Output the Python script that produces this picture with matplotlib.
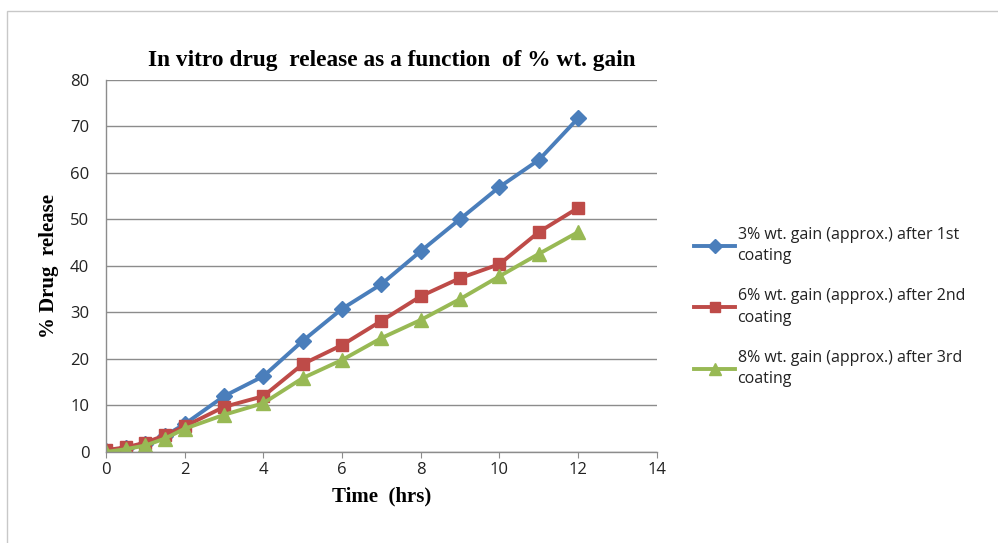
import matplotlib
matplotlib.use("Agg")
import matplotlib.pyplot as plt
from matplotlib.patches import Rectangle

time_hrs = [0, 0.5, 1, 1.5, 2, 3, 4, 5, 6, 7, 8, 9, 10, 11, 12]
release_3pct = [0.3, 0.8, 1.8, 3.5, 6.0, 12.0, 16.3, 23.9, 30.8, 36.1, 43.2, 50.1, 57.0, 62.8, 71.8]
release_6pct = [0.4, 1.0, 2.0, 3.6, 5.5, 9.7, 12.0, 18.9, 23.0, 28.2, 33.5, 37.4, 40.4, 47.3, 52.5]
release_8pct = [0.0, 0.6, 1.4, 2.9, 5.0, 8.0, 10.5, 15.9, 19.8, 24.5, 28.4, 32.9, 37.8, 42.6, 47.3]
series_labels = ["3% wt. gain (approx.) after 1st\ncoating",
                 "6% wt. gain (approx.) after 2nd\ncoating",
                 "8% wt. gain (approx.) after 3rd\ncoating"]
x_ticks = [0, 2, 4, 6, 8, 10, 12, 14]
y_ticks = [0, 10, 20, 30, 40, 50, 60, 70, 80]

fig = plt.figure(figsize=(9.98, 5.43), dpi=100)
fig.patches.append(Rectangle((0.007, -0.01), 1.0, 0.99, transform=fig.transFigure,
                             fill=False, edgecolor="#c8c8c8", linewidth=1.0))
ax = fig.add_axes([0.1062, 0.1676, 0.552, 0.6851])

colors = ["#4A7EBB", "#BE4B48", "#98B954"]
markers = ["D", "s", "^"]
msizes = [8, 9, 10]
for ys, c, m, ms, lab in zip([release_3pct, release_6pct, release_8pct], colors, markers, msizes, series_labels):
    ax.plot(time_hrs, ys, color=c, marker=m, markersize=ms, linewidth=2.8, label=lab,
            markeredgecolor=c)

ax.set_xlim(0, 14)
ax.set_ylim(0, 80)
ax.set_xticks(x_ticks)
ax.set_yticks(y_ticks)
ax.yaxis.grid(True, color="#8c8c8c", linewidth=1.0)
ax.set_axisbelow(True)
for s in ["top", "right"]:
    ax.spines[s].set_visible(False)
for s in ["left", "bottom"]:
    ax.spines[s].set_color("#8c8c8c")
    ax.spines[s].set_linewidth(1.0)
ax.tick_params(axis="both", length=4, color="#8c8c8c", labelsize=12, labelcolor="#222222")
ax.tick_params(axis="y", length=0, pad=12)
for lbl in ax.get_xticklabels() + ax.get_yticklabels():
    lbl.set_family("Open Sans")

ax.set_title("In vitro drug  release as a function  of % wt. gain", family="Liberation Serif",
             fontweight="bold", fontsize=16.8, pad=10, x=0.519)
ax.set_xlabel("Time  (hrs)", family="Liberation Serif", fontweight="bold", fontsize=15, labelpad=6)
ax.set_ylabel("% Drug  release", family="Liberation Serif", fontweight="bold", fontsize=15, labelpad=8)

leg = ax.legend(loc="center left", bbox_to_anchor=(1.042, 0.39), frameon=False,
                prop={"family": "Open Sans", "size": 11.5}, handlelength=2.55,
                labelspacing=1.5, handletextpad=0.15, markerscale=0.85)
for t in leg.get_texts():
    t.set_color("#222222")
    t.set_linespacing(1.45)

fig.savefig("out.png", dpi=100)
